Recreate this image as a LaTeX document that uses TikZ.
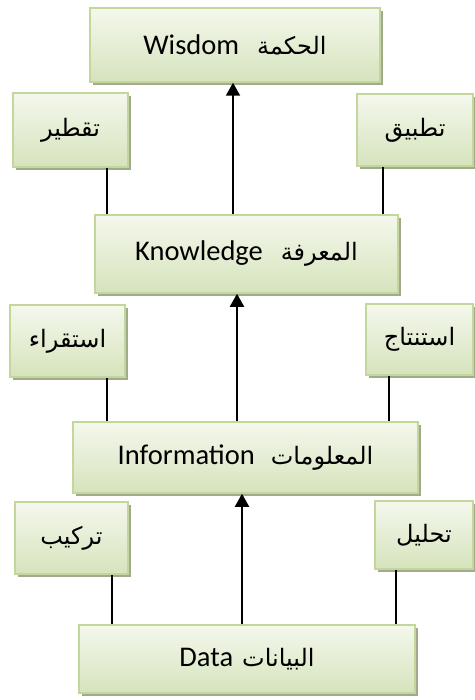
\documentclass[tikz,border=0pt]{standalone}
\usepackage{fontspec}
\setmainfont{Carlito}
\newfontfamily\arfont[Script=Arabic]{DejaVu Sans}
\TeXXeTstate=1
\usetikzlibrary{arrows.meta,shadows,calc}
\definecolor{boxtop}{RGB}{244,248,237}
\definecolor{boxbot}{RGB}{214,227,188}
\definecolor{boxedge}{RGB}{195,214,155}
\definecolor{boxshade}{RGB}{160,170,140}
\newcommand{\artext}[1]{{\arfont\fontsize{24}{28}\selectfont\beginR #1\endR}}

\begin{document}
\begin{tikzpicture}[x=1pt,y=-1pt,
  box/.style={draw=boxedge, line width=1.5pt, top color=boxtop, bottom color=boxbot,
    drop shadow={shadow xshift=3pt, shadow yshift=-3pt, fill=boxshade, opacity=1},
    font=\fontsize{28.5}{32}\selectfont, inner sep=0pt},
  link/.style={line width=2pt},
  up/.style={line width=2pt, -{Triangle[length=13pt,width=14pt]}}]
\useasboundingbox (0,0) rectangle (474,700);
\node[box, minimum width=290pt, minimum height=74pt] (wisdom) at (235,45) {Wisdom\hspace{18pt}\artext{الحكمة}};
\node[box, minimum width=115pt, minimum height=74pt] (taqtir) at (70.5,130) {\artext{تقطير}};
\node[box, minimum width=116pt, minimum height=72pt] (tatbiq) at (415,130) {\artext{تطبيق}};
\node[box, minimum width=303pt, minimum height=78pt] (know) at (246.5,254) {Knowledge\hspace{18pt}\artext{المعرفة}};
\node[box, minimum width=115pt, minimum height=72pt] (istiqra) at (67.5,341) {\artext{استقراء}};
\node[box, minimum width=107pt, minimum height=71pt] (istintaj) at (419.5,339.5) {\artext{استنتاج}};
\node[box, minimum width=345pt, minimum height=71pt] (info) at (245.5,457.5) {Information\hspace{16pt}\artext{المعلومات}};
\node[box, minimum width=113pt, minimum height=72pt] (tarkib) at (71.5,538) {\artext{تركيب}};
\node[box, minimum width=98pt, minimum height=68pt] (tahlil) at (424,535) {\artext{تحليل}};
\node[box, minimum width=336pt, minimum height=68pt] (data) at (247,659) {Data\hspace{9pt}\artext{البيانات}};

\draw[link] ([xshift=36.5pt]taqtir.south) -- ([xshift=36.5pt]taqtir.south |- know.north);
\draw[link] ([xshift=-32pt]tatbiq.south) -- ([xshift=-32pt]tatbiq.south |- know.north);
\draw[up] ([xshift=-13.5pt]know.north) -- ([xshift=-13.5pt]know.north |- wisdom.south);
\draw[link] ([xshift=39.5pt]istiqra.south) -- ([xshift=39.5pt]istiqra.south |- info.north);
\draw[link] ([xshift=-30.5pt]istintaj.south) -- ([xshift=-30.5pt]istintaj.south |- info.north);
\draw[up] ([xshift=-8.5pt]info.north) -- ([xshift=-8.5pt]info.north |- know.south);
\draw[link] ([xshift=40.5pt]tarkib.south) -- ([xshift=40.5pt]tarkib.south |- data.north);
\draw[link] ([xshift=-28pt]tahlil.south) -- ([xshift=-28pt]tahlil.south |- data.north);
\draw[up] ([xshift=-5pt]data.north) -- ([xshift=-5pt]data.north |- info.south);
\end{tikzpicture}
\end{document}
